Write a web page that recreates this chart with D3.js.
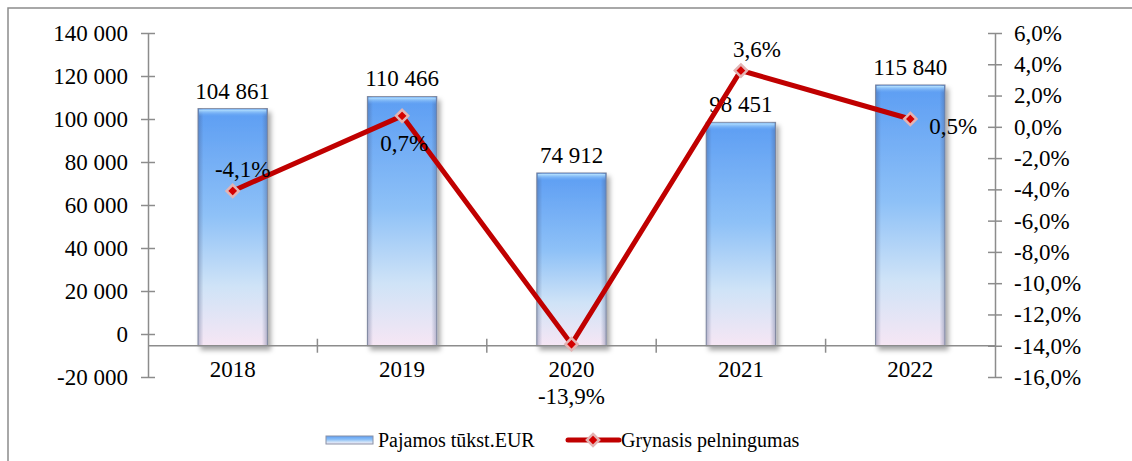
<!DOCTYPE html>
<html lang="lt">
<head>
<meta charset="utf-8">
<title>Pajamos ir grynasis pelningumas</title>
<script src="https://cdn.jsdelivr.net/npm/d3@7"></script>
<style>
  body { margin: 0; background: #fff; }
  text { font-family: 'Liberation Serif', serif !important; fill: #000; }
  .axis path, .axis line { stroke: #8c8c8c; stroke-width: 1.5; }
</style>
</head>
<body>
<script>
// data
var years = ["2018", "2019", "2020", "2021", "2022"];
var revenue = [104861, 110466, 74912, 98451, 115840];
var margin = [-4.1, 0.7, -13.9, 3.6, 0.5];
var leftTicks = [-20000, 0, 20000, 40000, 60000, 80000, 100000, 120000, 140000];
var rightTicks = [-16, -14, -12, -10, -8, -6, -4, -2, 0, 2, 4, 6];
var marginLabelSide = ["aboveRight", "below", "farBelow", "aboveRight2", "right"];
var legendNames = ["Pajamos tūkst.EUR", "Grynasis pelningumas"];

var w = 1132, h = 461;
var x0 = 148, x1 = 995, yTop = 33, yBot = 377;
var serif = "'Liberation Serif', serif";
var fs = "23px";

var svg = d3.select("body").append("svg").attr("width", w).attr("height", h)
  .attr("font-family", serif);

// outer frame
svg.append("rect").attr("x", 8).attr("y", 8).attr("width", 1140).attr("height", 480)
  .attr("fill", "none").attr("stroke", "#8c8c8c").attr("stroke-width", 1.5);

var defs = svg.append("defs");
var g1 = defs.append("linearGradient").attr("id", "barFill").attr("x1", 0).attr("y1", 0).attr("x2", 0).attr("y2", 1);
g1.append("stop").attr("offset", "0%").attr("stop-color", "#5c9df3");
g1.append("stop").attr("offset", "45%").attr("stop-color", "#8ec1f7");
g1.append("stop").attr("offset", "75%").attr("stop-color", "#cfe3f7");
g1.append("stop").attr("offset", "100%").attr("stop-color", "#f6e6f4");
var g2 = defs.append("linearGradient").attr("id", "barEdge").attr("x1", 0).attr("y1", 0).attr("x2", 1).attr("y2", 0);
g2.append("stop").attr("offset", "0%").attr("stop-color", "#40507a").attr("stop-opacity", 0.35);
g2.append("stop").attr("offset", "8%").attr("stop-color", "#40507a").attr("stop-opacity", 0);
g2.append("stop").attr("offset", "92%").attr("stop-color", "#40507a").attr("stop-opacity", 0);
g2.append("stop").attr("offset", "100%").attr("stop-color", "#40507a").attr("stop-opacity", 0.35);
var g3 = defs.append("linearGradient").attr("id", "barTop").attr("x1", 0).attr("y1", 0).attr("x2", 0).attr("y2", 1);
g3.append("stop").attr("offset", "0%").attr("stop-color", "#b9e4ff");
g3.append("stop").attr("offset", "100%").attr("stop-color", "#6aa8f3").attr("stop-opacity", 0);
var sh = defs.append("filter").attr("id", "shadow").attr("x", "-20%").attr("y", "-10%").attr("width", "150%").attr("height", "130%");
sh.append("feDropShadow").attr("dx", 3).attr("dy", 4).attr("stdDeviation", 2.5)
  .attr("flood-color", "#000").attr("flood-opacity", 0.35);

// scales
var x = d3.scaleBand().domain(years).range([x0, x1]).paddingInner(0.59).paddingOuter(0.295);
var xb = d3.scaleBand().domain(years).range([x0, x1]);
var yL = d3.scaleLinear().domain([-20000, 140000]).range([yBot, yTop]);
var yR = d3.scaleLinear().domain([-16, 6]).range([yBot, yTop]);
var axisY = yR(-14); // category axis crosses at -14%

var fmtL = function(d) { return d3.format(",")(d).replace(/,/g, " ").replace("−", "-"); };
var fmtR = function(d) { return d3.format(".1f")(d).replace(".", ",").replace("−", "-") + "%"; };

// bars
var bars = svg.append("g").selectAll("g").data(years).join("g");
bars.append("rect")
  .attr("x", function(d) { return x(d); })
  .attr("y", function(d, i) { return yL(revenue[i]); })
  .attr("width", x.bandwidth())
  .attr("height", function(d, i) { return axisY - yL(revenue[i]); })
  .attr("fill", "url(#barFill)").attr("stroke", "#8a92a6").attr("stroke-width", 1)
  .attr("filter", "url(#shadow)");
bars.append("rect")
  .attr("x", function(d) { return x(d); })
  .attr("y", function(d, i) { return yL(revenue[i]); })
  .attr("width", x.bandwidth())
  .attr("height", function(d, i) { return axisY - yL(revenue[i]); })
  .attr("fill", "url(#barEdge)");
bars.append("rect")
  .attr("x", function(d) { return x(d) + 1; })
  .attr("y", function(d, i) { return yL(revenue[i]) + 1; })
  .attr("width", x.bandwidth() - 2)
  .attr("height", 7)
  .attr("fill", "url(#barTop)");

// axes
var left = svg.append("g").attr("class", "axis").attr("transform", "translate(" + x0 + ",0)")
  .call(d3.axisLeft(yL).tickValues(leftTicks).tickFormat(fmtL).tickSizeInner(6).tickSizeOuter(0).tickPadding(14));
left.attr("font-family", serif);
left.selectAll(".tick line").attr("x2", 7).attr("x1", -7);
left.selectAll("text").style("font-size", fs);

var right = svg.append("g").attr("class", "axis").attr("transform", "translate(" + x1 + ",0)")
  .call(d3.axisRight(yR).tickValues(rightTicks).tickFormat(fmtR).tickSizeInner(6).tickSizeOuter(0).tickPadding(13));
right.attr("font-family", serif);
right.selectAll(".tick line").attr("x1", -7).attr("x2", 7);
right.selectAll("text").style("font-size", fs);

var bottom = svg.append("g").attr("class", "axis").attr("transform", "translate(0," + axisY + ")")
  .call(d3.axisBottom(xb).tickSize(0).tickPadding(15));
bottom.attr("font-family", serif);
bottom.select(".domain").attr("d", "M" + x0 + ",0H" + x1);
bottom.selectAll("text").style("font-size", fs);
svg.append("g").selectAll("line").data(years.slice(1)).join("line")
  .attr("x1", function(d) { return xb(d); }).attr("x2", function(d) { return xb(d); })
  .attr("y1", axisY - 7).attr("y2", axisY + 7)
  .attr("stroke", "#8c8c8c").attr("stroke-width", 1.5);

// bar labels
svg.append("g").selectAll("text").data(years).join("text")
  .attr("x", function(d) { return xb(d) + xb.bandwidth() / 2; })
  .attr("y", function(d, i) { return yL(revenue[i]) - 10; })
  .attr("text-anchor", "middle").style("font-size", fs)
  .text(function(d, i) { return fmtL(revenue[i]); });

// line
var cx = function(i) { return xb(years[i]) + xb.bandwidth() / 2; };
var line = d3.line().x(function(d, i) { return cx(i); }).y(function(d) { return yR(d); });
svg.append("path").datum(margin).attr("d", line)
  .attr("fill", "none").attr("stroke", "#c00000").attr("stroke-width", 5).attr("stroke-linejoin", "miter");

var diamond = d3.symbol().type(d3.symbolDiamond2).size(95);
svg.append("g").selectAll("path").data(margin).join("path")
  .attr("transform", function(d, i) { return "translate(" + cx(i) + "," + yR(d) + ")"; })
  .attr("d", diamond)
  .attr("fill", "#d40000").attr("stroke", "#e3b4b4").attr("stroke-width", 2.5);

// line labels
var off = {
  aboveRight: [10, -14, "middle"], aboveRight2: [16, -14, "middle"],
  below: [2, 35, "middle"], farBelow: [0, 60, "middle"], right: [19, 15, "start"]
};
svg.append("g").selectAll("text").data(margin).join("text")
  .attr("x", function(d, i) { return cx(i) + off[marginLabelSide[i]][0]; })
  .attr("y", function(d, i) { return yR(d) + off[marginLabelSide[i]][1]; })
  .attr("text-anchor", function(d, i) { return off[marginLabelSide[i]][2]; })
  .style("font-size", fs)
  .text(function(d) { return fmtR(d); });

// legend
var lg = svg.append("g").attr("transform", "translate(0,440)");
lg.append("rect").attr("x", 326).attr("y", -4).attr("width", 47).attr("height", 8)
  .attr("fill", "url(#barFill)").attr("stroke", "#8a92a6").attr("stroke-width", 1);
lg.append("text").attr("x", 378).attr("y", 7).style("font-size", "20px").text(legendNames[0]);
lg.append("line").attr("x1", 568).attr("x2", 619).attr("y1", 0).attr("y2", 0)
  .attr("stroke", "#c00000").attr("stroke-width", 5).attr("stroke-linecap", "round");
lg.append("path").attr("transform", "translate(593,0)").attr("d", diamond)
  .attr("fill", "#d40000").attr("stroke", "#e3b4b4").attr("stroke-width", 2.5);
lg.append("text").attr("x", 621).attr("y", 7).style("font-size", "20px").text(legendNames[1]);
</script>
</body>
</html>
